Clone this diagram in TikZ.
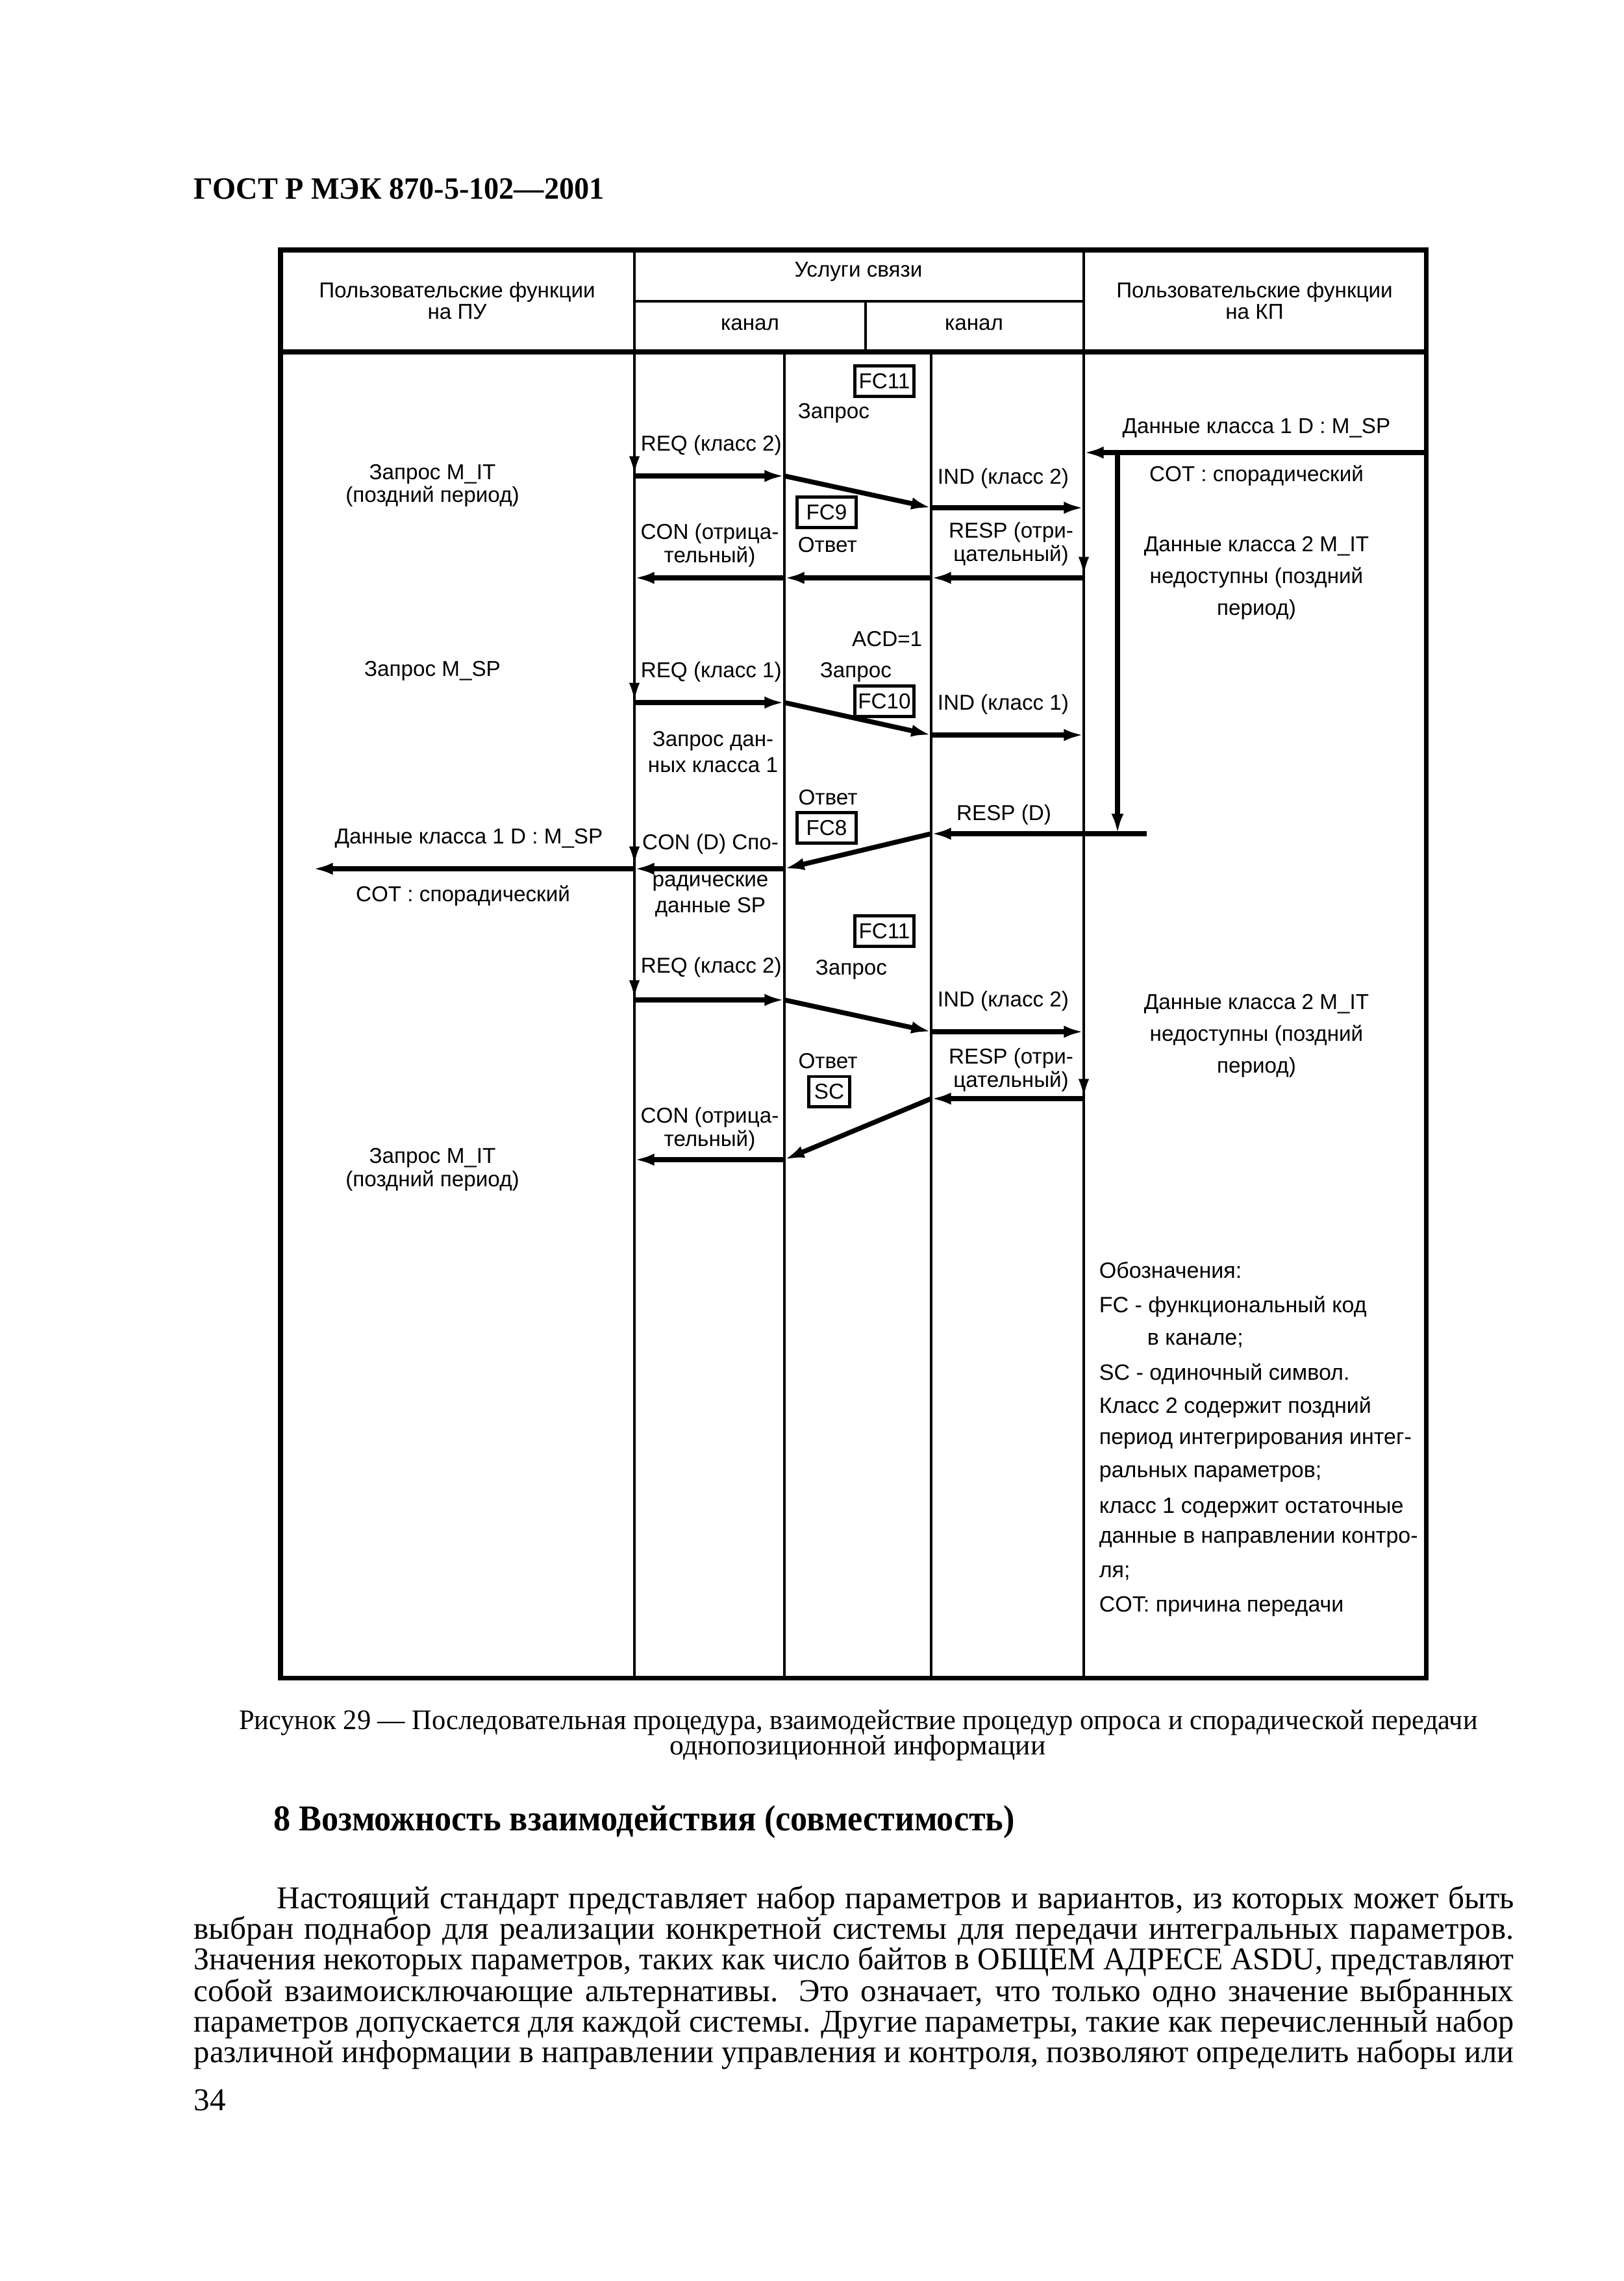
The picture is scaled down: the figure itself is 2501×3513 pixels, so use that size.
\documentclass[tikz,border=0pt]{standalone}
\usepackage{fontspec}
\usepackage{graphicx}
\setmainfont{Liberation Serif}
\newfontfamily\dsans{Liberation Sans}
\usetikzlibrary{arrows.meta}
\newcommand\myjline[2]{\setbox0=\hbox{#2}\ifdim\wd0>#1\relax\resizebox{#1}{\height}{#2}\else\makebox[#1][s]{#2}\fi}
\begin{document}
\begin{tikzpicture}[x=0.084667mm, y=-0.084667mm,
  lbl/.style={font=\dsans\fontsize{8}{9}\selectfont, inner sep=0pt, align=center},
  lblw/.style={lbl, anchor=west, align=left},
  fcbox/.style={lbl, draw, line width=1.2pt, minimum width=7.7mm, minimum height=3.9mm},
  tblframe/.style={line width=1.7pt},
  life/.style={line width=1.1pt},
  msg/.style={line width=1.8pt, -{Latex[length=2.6mm,width=1.6mm]}},
  ltick/.style={line width=1.1pt, -{Latex[length=2.4mm,width=1.4mm]}},
  serif/.style={font=\fontsize{11.8}{13}\selectfont, inner sep=0pt, anchor=west},
  legend/.style={lblw, font=\dsans\fontsize{8.2}{9}\selectfont}]
\useasboundingbox (0,0) rectangle (2501,3513);
\fill[white] (0,0) rectangle (2501,3513);

% page title
\node[serif, font=\bfseries\fontsize{11.5}{13}\selectfont] (title) at (298,291) {\myjline{53.5mm}{ГОСТ Р МЭК 870-5-102—2001}};

% table frame
\draw[tblframe] (432,385) rectangle (2196,2584);
\draw[tblframe] (432,542) -- (2196,542);
\draw[life] (977,385) -- (977,2584);
\draw[life] (1669,385) -- (1669,2584);
\draw[life] (977,464) -- (1669,464);
\draw[life] (1333,464) -- (1333,542);
\draw[life] (1208,542) -- (1208,2584);
\draw[life] (1434,542) -- (1434,2584);

% header texts
\node[lbl, font=\dsans\fontsize{8}{8.1}\selectfont] (hpu) at (704,463) {Пользовательские функции\\на ПУ};
\node[lbl] (hsv) at (1322,419) {Услуги связи};
\node[lbl] (hk1) at (1155,500) {канал};
\node[lbl] (hk2) at (1500,500) {канал};
\node[lbl, font=\dsans\fontsize{8}{8.1}\selectfont] (hkp) at (1932,463) {Пользовательские функции\\на КП};

% coordinates of message ends
\coordinate (r1a) at (977,733);  \coordinate (r1b) at (1208,733);
\coordinate (r1c) at (1434,782); \coordinate (r1d) at (1669,782);
\coordinate (s1d) at (1669,890); \coordinate (s1c) at (1434,890);
\coordinate (s1b) at (1208,890); \coordinate (s1a) at (977,890);
\coordinate (r2a) at (977,1082); \coordinate (r2b) at (1208,1082);
\coordinate (r2c) at (1434,1132);\coordinate (r2d) at (1669,1132);
\coordinate (s3e) at (1766,1284);\coordinate (s3c) at (1434,1284);
\coordinate (s3b) at (1208,1338);\coordinate (s3a) at (977,1338);
\coordinate (s3z) at (482,1338);
\coordinate (r4a) at (977,1540); \coordinate (r4b) at (1208,1540);
\coordinate (r4c) at (1434,1589);\coordinate (r4d) at (1669,1589);
\coordinate (s5d) at (1669,1692);\coordinate (s5c) at (1434,1692);
\coordinate (s5b) at (1208,1786);\coordinate (s5a) at (977,1786);
\coordinate (dR) at (2196,697);  \coordinate (dL) at (1669,697);
\coordinate (v1) at (1721,697);  \coordinate (v2) at (1721,1284);
% lifeline tick marks
\coordinate (k1s) at (977,695);  \coordinate (k1e) at (977,731);
\coordinate (k2s) at (977,1044); \coordinate (k2e) at (977,1080);
\coordinate (k3s) at (977,1296); \coordinate (k3e) at (977,1332);
\coordinate (k4s) at (977,1502); \coordinate (k4e) at (977,1538);
\coordinate (k5s) at (1669,850); \coordinate (k5e) at (1669,886);
\coordinate (k6s) at (1669,1654);\coordinate (k6e) at (1669,1690);

% messages
\draw[msg] (r1a) -- (r1b); \draw[msg] (r1b) -- (r1c); \draw[msg] (r1c) -- (r1d);
\draw[msg] (s1d) -- (s1c); \draw[msg] (s1c) -- (s1b); \draw[msg] (s1b) -- (s1a);
\draw[msg] (r2a) -- (r2b); \draw[msg] (r2b) -- (r2c); \draw[msg] (r2c) -- (r2d);
\draw[msg] (s3e) -- (s3c); \draw[msg] (s3c) -- (s3b); \draw[msg] (s3b) -- (s3a); \draw[msg] (s3a) -- (s3z);
\draw[msg] (r4a) -- (r4b); \draw[msg] (r4b) -- (r4c); \draw[msg] (r4c) -- (r4d);
\draw[msg] (s5d) -- (s5c); \draw[msg] (s5c) -- (s5b); \draw[msg] (s5b) -- (s5a);
\draw[msg] (dR) -- (dL);
\draw[msg] (v1) -- (v2);
\foreach \k in {1,...,6} {\draw[ltick] (k\k s) -- (k\k e);}

% body labels
\node[fcbox] (fc11a) at (1362,587) {FC11};
\node[lblw] (zap1) at (1228,636) {Запрос};
\node[lbl] (d1a) at (1935,659) {Данные класса 1 D : M\_SP};
\node[lblw] (req1) at (986,686) {REQ (класс 2)};
\node[lbl, font=\dsans\fontsize{8}{8.6}\selectfont] (zmit1) at (666,748) {Запрос M\_IT\\(поздний период)};
\node[lbl] (cot1) at (1935,733) {COT : спорадический};
\node[lblw] (ind1) at (1443,737) {IND (класс 2)};
\node[fcbox] (fc9) at (1273,789) {FC9};
\node[lbl, font=\dsans\fontsize{8}{8.8}\selectfont] (con1) at (1093,840) {CON (отрица-\\тельный)};
\node[lblw] (otv1) at (1228,839) {Ответ};
\node[lbl, font=\dsans\fontsize{8}{8.8}\selectfont] (resp1) at (1557,838) {RESP (отри-\\цательный)};
\node[lbl, font=\dsans\fontsize{8}{11.8}\selectfont] (d2a) at (1935,890) {Данные класса 2 M\_IT\\недоступны (поздний\\период)};
\node[lbl, anchor=east] (acd) at (1421,984) {ACD=1};
\node[lbl] (zmsp) at (666,1033) {Запрос M\_SP};
\node[lblw] (req2) at (986,1035) {REQ (класс 1)};
\node[lblw] (zap2) at (1262,1035) {Запрос};
\node[fcbox] (fc10) at (1362,1080) {FC10};
\node[lblw] (ind2) at (1443,1085) {IND (класс 1)};
\node[lbl, font=\dsans\fontsize{8}{9.6}\selectfont] (zdk) at (1098,1158) {Запрос дан-\\ных класса 1};
\node[lbl] (otv2) at (1275,1228) {Ответ};
\node[fcbox] (fc8) at (1273,1275) {FC8};
\node[lbl] (respd) at (1546,1255) {RESP (D)};
\node[lbl] (d1b) at (722,1291) {Данные класса 1 D : M\_SP};
\node[lbl] (cond) at (1094,1300) {CON (D) Спо-};
\node[lbl, font=\dsans\fontsize{8}{9.8}\selectfont] (rsp) at (1094,1380) {радические\\данные SP};
\node[lbl] (cot2) at (713,1380) {COT : спорадический};
\node[fcbox] (fc11b) at (1362,1434) {FC11};
\node[lblw] (req3) at (986,1490) {REQ (класс 2)};
\node[lblw] (zap3) at (1255,1493) {Запрос};
\node[lblw] (ind3) at (1443,1542) {IND (класс 2)};
\node[lbl, font=\dsans\fontsize{8}{11.8}\selectfont] (d2b) at (1935,1595) {Данные класса 2 M\_IT\\недоступны (поздний\\период)};
\node[lbl] (otv3) at (1275,1634) {Ответ};
\node[lbl, font=\dsans\fontsize{8}{8.8}\selectfont] (resp2) at (1557,1648) {RESP (отри-\\цательный)};
\node[fcbox, minimum width=5.3mm] (sc) at (1277,1681) {SC};
\node[lbl, font=\dsans\fontsize{8}{8.8}\selectfont] (con2) at (1093,1739) {CON (отрица-\\тельный)};
\node[lbl, font=\dsans\fontsize{8}{8.6}\selectfont] (zmit2) at (666,1801) {Запрос M\_IT\\(поздний период)};

% legend
\node[legend] (lg1) at (1692,1956) {Обозначения:};
\node[legend] (lg2) at (1692,2012) {FC - функциональный код};
\node[legend] (lg3) at (1766,2064) {в канале;};
\node[legend] (lg4) at (1692,2116) {SC - одиночный символ.};
\node[legend] (lg5) at (1692,2167) {Класс 2 содержит поздний};
\node[legend] (lg6) at (1692,2219) {период интегрирования интег-};
\node[legend] (lg7) at (1692,2270) {ральных параметров;};
\node[legend] (lg8) at (1692,2322) {класс 1 содержит остаточные};
\node[legend] (lg9) at (1692,2371) {данные в направлении контро-};
\node[legend] (lg10) at (1692,2423) {ля;};
\node[legend] (lg11) at (1692,2474) {COT: причина передачи};

% caption
\node[serif, anchor=center, font=\fontsize{10.5}{12}\selectfont] (cap1) at (1322,2653) {\myjline{161.5mm}{Рисунок 29 — Последовательная процедура, взаимодействие процедур опроса и спорадической передачи}};
\node[serif, anchor=center, font=\fontsize{10.5}{12}\selectfont] (cap2) at (1321,2692) {однопозиционной информации};

% heading
\node[serif, font=\bfseries\fontsize{13.5}{15}\selectfont] (head) at (421,2806) {\myjline{96.6mm}{8 Возможность взаимодействия (совместимость)}};

% body text
\node[serif] (p1) at (426,2927) {\myjline{161.3mm}{Настоящий стандарт представляет набор параметров и вариантов, из которых может быть}};
\node[serif] (p2) at (298,2974) {\myjline{172.1mm}{выбран поднабор для реализации конкретной системы для передачи интегральных параметров.}};
\node[serif] (p3) at (298,3021) {\myjline{172.1mm}{Значения некоторых параметров, таких как число байтов в ОБЩЕМ АДРЕСЕ ASDU, представляют}};
\node[serif] (p4) at (298,3070) {\myjline{172.1mm}{собой взаимоисключающие альтернативы. Это означает, что только одно значение выбранных}};
\node[serif] (p5) at (298,3117) {\myjline{172.1mm}{параметров допускается для каждой системы. Другие параметры, такие как перечисленный набор}};
\node[serif] (p6) at (298,3164) {\myjline{172.1mm}{различной информации в направлении управления и контроля, позволяют определить наборы или}};
\node[serif] (pg) at (298,3234) {34};
\end{tikzpicture}
\end{document}
